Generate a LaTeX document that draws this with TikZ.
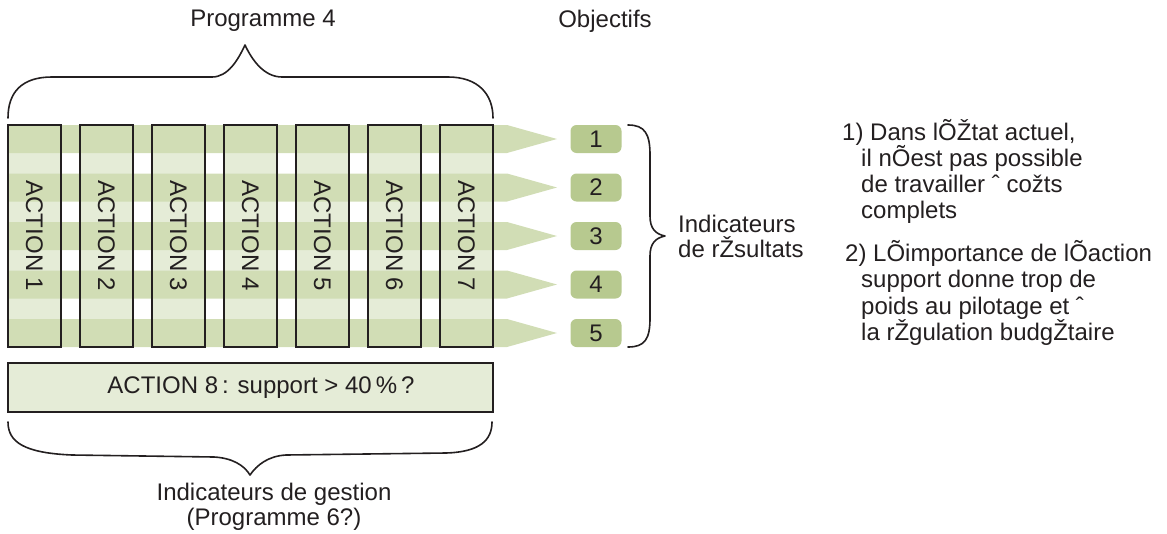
\documentclass[tikz,border=0pt]{standalone}
\usepackage{fontspec}
\setmainfont{Liberation Sans}
\definecolor{banddark}{RGB}{209,221,181}
\definecolor{bandlight}{RGB}{229,236,215}
\definecolor{objgreen}{RGB}{183,201,143}
\definecolor{ink}{RGB}{35,31,32}
\begin{document}
\begin{tikzpicture}[x=1pt,y=-1pt,
  every node/.style={font=\fontsize{24}{26}\selectfont, text=ink, inner sep=0pt},
  outline/.style={draw=ink, line width=1.8pt},
  brace/.style={draw=ink, line width=1.6pt, line cap=round, line join=round},
  actbox/.style={outline, rotate=-90, minimum width=222pt, minimum height=53pt},
  objbox/.style={fill=objgreen, rounded corners=6pt, minimum width=51pt, minimum height=28pt},
  bandarrow/.style={fill=banddark},
  lbl/.style={anchor=base west}]
\useasboundingbox (0,0) rectangle (1167,533);

% light fill of the action columns and of the support action
\foreach \i in {0,...,6}
  \fill[bandlight] (8+72*\i,125) rectangle +(53,222);
\fill[bandlight] (8,363) rectangle (493,412);

% horizontal bands pointing to the objectives
\foreach \r in {0,...,4}
  \path[bandarrow] (8,125+48.5*\r) -- (507,125+48.5*\r) -- (557,139+48.5*\r)
     -- (507,153+48.5*\r) -- (8,153+48.5*\r) -- cycle;

% action columns
\foreach \i in {1,...,7}
  \node[actbox] (act\i) at (34.5+72*\i-72,236) {ACTION \i};

% support action
\node[outline, minimum width=485pt, minimum height=49pt] (act8) at (250.5,387.5) {};
\node (act8t) at (261,387.5) {ACTION 8\,: support > 40\,\%\,?};

% objectives
\foreach \r in {1,...,5}
  \node[objbox] (obj\r) at (596,139+48.5*\r-48.5) {\r};

% brace over the programme
\draw[brace] (8,118) .. controls (8,92) and (22,77) .. (52,77) -- (212,77)
  .. controls (228,77) and (238,60) .. (245,45)
  .. controls (252,60) and (264,77) .. (282,77) -- (448,77)
  .. controls (478,77) and (493,94) .. (493,118);

% brace under the support action
\draw[brace] (8,422) .. controls (8,442) and (24,453) .. (72,455) -- (214,457)
  .. controls (232,458) and (244,465) .. (250,475)
  .. controls (257,465) and (268,456) .. (286,455) -- (446,453)
  .. controls (480,452) and (492,440) .. (492,422);

% brace grouping the objectives
\draw[brace] (628,125) .. controls (645,125) and (650,134) .. (650,155) -- (650,216)
  .. controls (650,228) and (655,234) .. (665,236)
  .. controls (655,238) and (650,244) .. (650,256) -- (650,318)
  .. controls (650,339) and (645,347) .. (628,347);

% labels
\node (prog) at (263,21) {Programme 4};
\node (objtitle) at (605,21) {Objectifs};
\node[lbl] (resa) at (678,232) {Indicateurs};
\node[lbl] (resb) at (678,257) {de rŽsultats};
\node (gesta) at (274,494) {Indicateurs de gestion};
\node (gestb) at (274,519) {(Programme 6?)};

% remarks
\node[lbl] (n1a) at (842,140) {1) Dans lÕŽtat actuel,};
\node[lbl] (n1b) at (861,166) {il nÕest pas possible};
\node[lbl] (n1c) at (861,192) {de travailler ˆ cožts};
\node[lbl] (n1d) at (861,218) {complets};
\node[lbl] (n2a) at (845,261) {2) LÕimportance de lÕaction};
\node[lbl] (n2b) at (861,287) {support donne trop de};
\node[lbl] (n2c) at (861,314) {poids au pilotage et ˆ};
\node[lbl] (n2d) at (861,340) {la rŽgulation budgŽtaire};
\end{tikzpicture}
\end{document}
